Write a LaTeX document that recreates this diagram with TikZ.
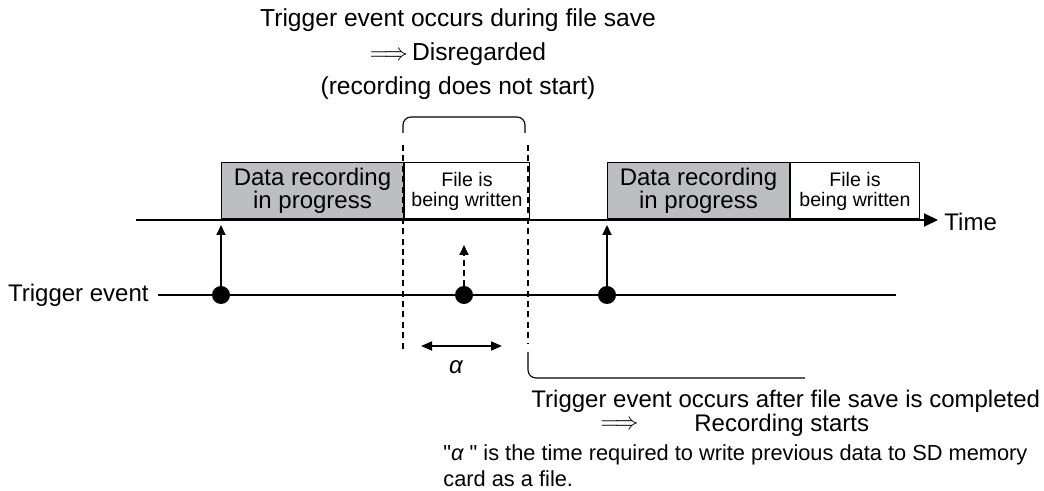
\documentclass[tikz,border=0pt]{standalone}
\usepackage{fontspec}
\setmainfont{Liberation Sans}[Ligatures=TeXOff]
\usetikzlibrary{arrows.meta,positioning,calc}
\definecolor{recgray}{RGB}{188,190,193}

\begin{document}
\begin{tikzpicture}[x=0.5pt,y=-0.5pt,
    recbox/.style={
        draw=black,
        line width=0.5pt,
        fill=recgray,
        minimum width=91pt,
        minimum height=28pt,
        inner sep=0pt,
        align=center,
        font=\fontsize{12}{11.5}\selectfont
    },
    filebox/.style={
        draw=black,
        line width=0.5pt,
        fill=white,
        minimum width=62.5pt,
        minimum height=28pt,
        inner sep=0pt,
        align=center,
        font=\fontsize{9.8}{10}\selectfont
    },
    axisline/.style={
        black,
        line width=1pt
    },
    trigdot/.style={
        circle,
        fill=black,
        inner sep=0pt,
        minimum size=9pt
    },
    uparrow/.style={
        line width=0.9pt,
        -{Triangle[length=5pt,width=4.5pt]}
    },
    guideline/.style={
        black,
        line width=0.55pt,
        dash pattern=on 3pt off 2.2pt
    },
    bracketline/.style={
        black,
        line width=0.55pt,
        rounded corners=4pt
    },
    lbl/.style={
        inner sep=0pt,
        font=\fontsize{12}{15}\selectfont
    },
    notelbl/.style={
        inner sep=0pt,
        align=left,
        font=\fontsize{10.9}{13.3}\selectfont
    }
]

\path[use as bounding box] (0,0) rectangle (1044,491);

\node[recbox, anchor=south west] (rec1) at (221,219.5)
{Data recording\\in progress};
\node[filebox, right=0pt of rec1] (file1)
{File is\\being written};
\node[recbox, anchor=south west] (rec2) at (607,219.5)
{Data recording\\in progress};
\node[filebox, right=0pt of rec2, minimum width=64.5pt] (file2)
{File is\\being written};

\coordinate (tstart) at (136,220);
\coordinate (tend) at (938,220);
\draw[axisline, -{Triangle[length=7pt,width=6.5pt]}]
(tstart) -- (tend);
\node[lbl, anchor=west] (timelbl) at (944,222) {Time};

\node[lbl, anchor=east] (triglbl) at (149,295) {Trigger event};
\coordinate (gstart) at (158,295);
\coordinate (gend) at (896,295);
\draw[axisline] (gstart) -- (gend);

\node[trigdot] (ev1) at (221,295) {};
\node[trigdot] (ev2) at (464,295) {};
\node[trigdot] (ev3) at (607,295) {};

\coordinate (hit1) at (221,225);
\coordinate (hit2) at (464,245);
\coordinate (hit3) at (607,225);
\draw[uparrow] (ev1) -- (hit1);
\draw[uparrow] (ev3) -- (hit3);
\draw[uparrow, dash pattern=on 3pt off 2pt] (ev2.north) -- (hit2);

\coordinate (gl1top) at (403,145);
\coordinate (gl1bot) at (403,352);
\coordinate (gl2top) at (528,145);
\coordinate (gl2bot) at (528,344);
\draw[guideline] (gl1top) -- (gl1bot);
\draw[guideline] (gl2top) -- (gl2bot);

\draw[bracketline]
(403,133) -- (403,117) -- (525,117) -- (525,133);

\draw[bracketline]
(528,352) -- (528,378) -- (805,378);

\coordinate (aleft) at (421,346);
\coordinate (aright) at (502,346);
\draw[line width=0.9pt,
    {Triangle[length=5.5pt,width=4.5pt]}-{Triangle[length=5.5pt,width=4.5pt]}]
(aleft) -- (aright);
\node[lbl, font=\fontsize{12}{12}\itshape] (alpha) at (456,367) {α};

\node[lbl, align=center, font=\fontsize{12.3}{17}\selectfont] (topnote) at (458,54)
{Trigger event occurs during file save\\
$\Longrightarrow$\,Disregarded\\
(recording does not start)};

\node[lbl, anchor=west] (aftnote) at (531,401)
{Trigger event occurs after file save is completed};
\node[lbl, anchor=west] (dblarrow) at (600,425) {$\Longrightarrow$};
\node[lbl, anchor=west] (startnote) at (694,425) {Recording starts};

\node[notelbl, anchor=base west] (alphanote) at (443,487)
{"{\itshape α} " is the time required to write previous data to SD memory\\
card as a file.};

\end{tikzpicture}
\end{document}
